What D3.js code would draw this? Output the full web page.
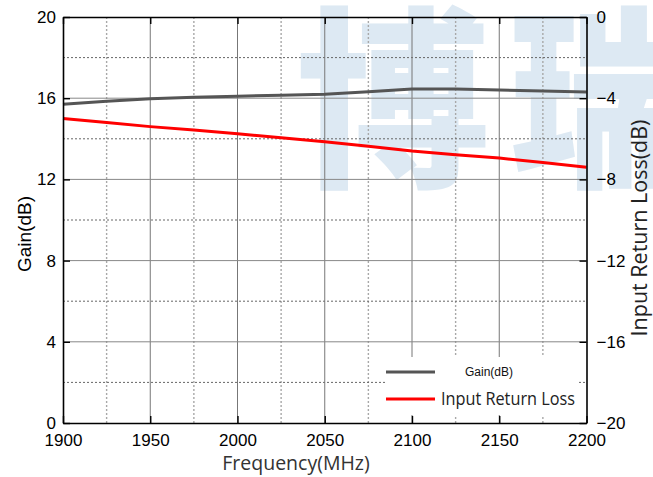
<!DOCTYPE html>
<html>
<head>
<meta charset="utf-8">
<script src="https://cdn.jsdelivr.net/npm/d3@7"></script>
<style>
  html, body { margin: 0; padding: 0; background: #fff; }
  svg { display: block; }
</style>
</head>
<body>
<svg id="chart" width="653" height="477"></svg>
<script>
// Frequency sweep (MHz)
const freqs = [1900, 1925, 1950, 1975, 2000, 2025, 2050, 2075, 2100, 2125, 2150, 2175, 2200];
// Gain (dB), left axis
const gain = [15.7, 15.85, 15.97, 16.05, 16.1, 16.15, 16.2, 16.32, 16.45, 16.45, 16.4, 16.35, 16.3];
// Input return loss (dB), right axis
const returnLoss = [-5.0, -5.2, -5.4, -5.57, -5.75, -5.95, -6.15, -6.37, -6.6, -6.78, -6.95, -7.17, -7.4];

const xMajor = [1900, 1950, 2000, 2050, 2100, 2150, 2200];
const xMinor = [1925, 1975, 2025, 2075, 2125, 2175];
const gainMajor = [0, 4, 8, 12, 16, 20];
const gainMinor = [2, 6, 10, 14, 18];
const rlMajor = [-20, -16, -12, -8, -4, 0];

const svg = d3.select("#chart");
const L = 63, R = 586.5, T = 17, B = 423;

const x = d3.scaleLinear().domain([1900, 2200]).range([L, R]);
const yG = d3.scaleLinear().domain([0, 20]).range([B, T]);
const yR = d3.scaleLinear().domain([-20, 0]).range([B, T]);

// background watermark
svg.append("text")
  .attr("x", 296).attr("y", 172)
  .attr("font-family", "'Noto Sans CJK SC'")
  .attr("font-weight", 900)
  .attr("font-size", 194)
  .attr("fill", "#dde9f3")
  .attr("letter-spacing", 18)
  .text("博瑞");

const grid = svg.append("g");
// minor vertical grid (dotted, light)
grid.selectAll("line.vmin").data(xMinor).join("line")
  .attr("x1", d => x(d)).attr("x2", d => x(d))
  .attr("y1", T).attr("y2", B)
  .attr("stroke", "#a8a8a8").attr("stroke-width", 1.4)
  .attr("stroke-dasharray", "2,2");
// minor horizontal grid (dotted, darker)
grid.selectAll("line.hmin").data(gainMinor).join("line")
  .attr("x1", L).attr("x2", R)
  .attr("y1", d => yG(d)).attr("y2", d => yG(d))
  .attr("stroke", "#666").attr("stroke-width", 1)
  .attr("stroke-dasharray", "2,2");
// major grid (solid)
grid.selectAll("line.vmaj").data(xMajor.slice(1, -1)).join("line")
  .attr("x1", d => x(d)).attr("x2", d => x(d))
  .attr("y1", T).attr("y2", B)
  .attr("stroke", "#777").attr("stroke-width", 1);
grid.selectAll("line.hmaj").data(gainMajor.slice(1, -1)).join("line")
  .attr("x1", L).attr("x2", R)
  .attr("y1", d => yG(d)).attr("y2", d => yG(d))
  .attr("stroke", "#888").attr("stroke-width", 1);

// data lines
const lineG = d3.line().x((d, i) => x(freqs[i])).y(d => yG(d));
const lineR = d3.line().x((d, i) => x(freqs[i])).y(d => yR(d));
svg.append("path").datum(gain)
  .attr("d", lineG).attr("fill", "none")
  .attr("stroke", "#555").attr("stroke-width", 3);
svg.append("path").datum(returnLoss)
  .attr("d", lineR).attr("fill", "none")
  .attr("stroke", "#f00").attr("stroke-width", 3);

// axes with inward ticks
const font = "'Liberation Sans', Arial, sans-serif";
function styleAxis(g) {
  g.select(".domain").attr("stroke", "#000").attr("stroke-width", 1.6);
  g.selectAll(".tick line").attr("stroke", "#000").attr("stroke-width", 1.4);
  g.selectAll(".tick text").attr("font-family", font).attr("font-size", 17).attr("fill", "#000");
}
svg.append("g").attr("transform", `translate(0,${B})`)
  .call(d3.axisBottom(x).tickValues(xMajor).tickFormat(d3.format("d")).tickSizeInner(-7).tickSizeOuter(0).tickPadding(11))
  .call(styleAxis);
svg.append("g").attr("transform", `translate(0,${T})`)
  .call(d3.axisTop(x).tickValues(xMajor).tickFormat("").tickSizeInner(-7).tickSizeOuter(0))
  .call(styleAxis);
svg.append("g").attr("transform", `translate(${L},0)`)
  .call(d3.axisLeft(yG).tickValues(gainMajor).tickSizeInner(-7).tickSizeOuter(0).tickPadding(7))
  .call(styleAxis);
svg.append("g").attr("transform", `translate(${R},0)`)
  .call(d3.axisRight(yR).tickValues(rlMajor).tickSizeInner(-7).tickSizeOuter(0).tickPadding(10))
  .call(styleAxis);

// axis titles
svg.append("text")
  .attr("x", 296).attr("y", 470)
  .attr("text-anchor", "middle")
  .attr("font-family", "'Open Sans', sans-serif")
  .attr("font-size", 19.5).attr("fill", "#333")
  .text("Frequency(MHz)");
svg.append("text")
  .attr("transform", "translate(31,234) rotate(-90)")
  .attr("text-anchor", "middle")
  .attr("font-family", font)
  .attr("font-size", 19).attr("fill", "#000")
  .text("Gain(dB)");
svg.append("text")
  .attr("transform", "translate(647,228) rotate(-90)")
  .attr("text-anchor", "middle")
  .attr("font-family", "'Open Sans', sans-serif")
  .attr("font-size", 21.5).attr("fill", "#222")
  .text("Input Return Loss(dB)");

// legend
const lg = svg.append("g");
lg.append("rect").attr("x", 385).attr("y", 357).attr("width", 193).attr("height", 58).attr("fill", "#fff");
lg.append("line").attr("x1", 386).attr("x2", 435).attr("y1", 372).attr("y2", 372)
  .attr("stroke", "#555").attr("stroke-width", 3);
lg.append("text").attr("x", 465).attr("y", 376)
  .attr("font-family", font).attr("font-size", 12).attr("fill", "#111")
  .text("Gain(dB)");
lg.append("line").attr("x1", 386).attr("x2", 435).attr("y1", 399).attr("y2", 399)
  .attr("stroke", "#f00").attr("stroke-width", 3);
lg.append("text").attr("x", 441).attr("y", 405)
  .attr("font-family", "'Open Sans', sans-serif").attr("font-size", 18).attr("fill", "#222")
  .attr("textLength", 134).attr("lengthAdjust", "spacingAndGlyphs")
  .text("Input Return Loss");
</script>
</body>
</html>
